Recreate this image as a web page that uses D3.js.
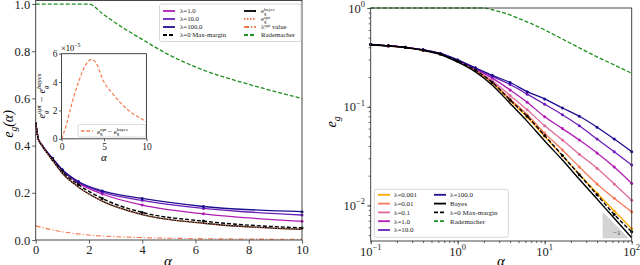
<!DOCTYPE html>
<html>
<head>
<meta charset="utf-8">
<script src="https://d3js.org/d3.v7.min.js"></script>
<style>
body { margin: 0; background: #fff; }
svg { display: block; font-family: "Liberation Serif", "DejaVu Serif", serif; }
</style>
</head>
<body>
<svg id="chart" width="640" height="265"></svg>
<script>
// sample points (alpha) shared by all the learning curves
const alpha = [0, 0.1, 0.16, 0.25, 0.4, 0.63, 1, 1.6, 2.5, 4, 6.3, 10, 16, 25, 40, 63, 100];

// generalisation error, one list per curve
const eLam0001 = [0.5, 0.426, 0.413, 0.398, 0.374, 0.341, 0.288, 0.232, 0.173, 0.115, 0.078, 0.05, 0.0318, 0.0207, 0.0133, 0.0088, 0.0058];
const eLam001  = [0.5, 0.426, 0.413, 0.398, 0.374, 0.342, 0.29, 0.235, 0.178, 0.12, 0.083, 0.054, 0.0365, 0.0245, 0.0165, 0.0118, 0.0086];
const eLam01   = [0.5, 0.426, 0.413, 0.399, 0.375, 0.343, 0.292, 0.238, 0.183, 0.13, 0.093, 0.064, 0.046, 0.033, 0.0238, 0.0165, 0.0113];
const eLam1    = [0.5, 0.427, 0.414, 0.4, 0.376, 0.345, 0.295, 0.242, 0.195, 0.148, 0.111, 0.079, 0.06, 0.046, 0.034, 0.0245, 0.0167];
const eLam10   = [0.5, 0.427, 0.414, 0.4, 0.377, 0.346, 0.297, 0.246, 0.203, 0.168, 0.134, 0.106, 0.083, 0.064, 0.047, 0.035, 0.0257];
const eLam100  = [0.5, 0.427, 0.414, 0.4, 0.377, 0.346, 0.298, 0.248, 0.208, 0.176, 0.142, 0.12, 0.097, 0.08, 0.062, 0.047, 0.035];
const eMaxMargin = [0.5, 0.427, 0.414, 0.399, 0.375, 0.342, 0.29, 0.235, 0.176, 0.117, 0.08, 0.051, 0.032, 0.0205, 0.0128, 0.0081, 0.0054];
const eBayes   = [0.5, 0.425, 0.412, 0.397, 0.372, 0.338, 0.283, 0.225, 0.165, 0.108, 0.071, 0.045, 0.0288, 0.0184, 0.0116, 0.0074, 0.0047];
const eOpt     = [0.5, 0.425, 0.412, 0.397, 0.372, 0.338, 0.283, 0.225, 0.165, 0.108, 0.071, 0.045];

// lambda_opt value (left panel only)
const lamOptAlpha = [0, 0.5, 1, 2, 3, 4, 6, 8, 10];
const lamOptValue = [0.06, 0.046, 0.035, 0.021, 0.014, 0.01, 0.006, 0.004, 0.003];

// Rademacher bound
const radAlpha = [0, 0.1, 2, 2.5, 3, 4, 5, 6.3, 8, 10, 16, 25, 40, 63, 100];
const radValue = [1, 1, 1, 0.96, 0.92, 0.85, 0.785, 0.72, 0.66, 0.6, 0.485, 0.395, 0.32, 0.265, 0.218];

// inset: e_opt - e_bayes
const insetAlpha = [0, 0.5, 1, 2, 3, 3.5, 4, 5, 6, 7, 8, 9, 10];
const insetDiff  = [0, 0.84e-5, 2.0e-5, 4.0e-5, 5.35e-5, 5.6e-5, 5.4e-5, 4.0e-5, 3.2e-5, 2.5e-5, 1.95e-5, 1.55e-5, 1.2e-5];

// slope -1 triangle (right panel)
const triAlpha = [47, 90];
const triE = [0.0047, 0.0084];

// ticks
const leftXTicks = [0, 2, 4, 6, 8, 10];
const leftYTicks = [0, 0.2, 0.4, 0.6, 0.8, 1.0];
const insetXTicks = [0, 5, 10];
const insetYTicks = [0, 2e-5, 4e-5, 6e-5];
const rightXTicks = [0.1, 1, 10, 100];
const rightYTicks = [0.01, 0.1, 1];

const col = {
  l0001: '#ffa500', l001: '#f57a5c', l01: '#dd6a9c', l1: '#b01cb4',
  l10: '#6c1db8', l100: '#1c0f8f', opt: '#f47a4e', green: '#1f8f1f'
};

const svg = d3.select('#chart');

// text with sub/superscripts; a sup right after a sub is stacked over it
function rich(text, parts, size, supUp) {
  const up = supUp || 0.45;
  let shift = 0, prev = null, prevMode = null;
  parts.forEach(p => {
    const mode = p[1] || null;
    const target = mode === 'sub' ? size * 0.28 : mode === 'sup' ? -size * up : 0;
    const ts = text.append('tspan')
      .attr('dy', target - shift)
      .attr('font-size', mode ? size * 0.68 : size)
      .text(p[0]);
    if (mode === 'sup' && prevMode === 'sub' && prev) {
      ts.attr('dx', -prev.node().getComputedTextLength());
    }
    shift = target;
    prev = ts;
    prevMode = mode;
  });
  return text;
}

function frame(g, x, y) {
  const [x0, x1] = x.range();
  const [y0, y1] = y.range();
  g.append('rect')
    .attr('x', x0).attr('y', y1)
    .attr('width', x1 - x0).attr('height', y0 - y1)
    .attr('fill', 'none').attr('stroke', '#333').attr('stroke-width', 0.9);
}

function styleAxis(g, size) {
  g.select('.domain').remove();
  g.selectAll('.tick line').attr('stroke', '#333').attr('stroke-width', 0.8);
  g.selectAll('.tick text').attr('font-size', size).attr('fill', '#222')
    .attr('font-family', '"Liberation Serif", serif');
}

function pairs(xs, ys) { return ys.map((v, i) => [xs[i], v]); }

function drawCurve(g, x, y, data, color, dash, width) {
  const line = d3.line().x(d => x(d[0])).y(d => y(d[1])).curve(d3.curveMonotoneX);
  g.append('path').datum(data)
    .attr('d', line).attr('fill', 'none')
    .attr('stroke', color).attr('stroke-width', width || 1.3)
    .attr('stroke-dasharray', dash || null);
}

function drawMarkers(g, x, y, data, color) {
  g.selectAll(null).data(data).join('circle')
    .attr('cx', d => x(d[0])).attr('cy', d => y(d[1]))
    .attr('r', 1.5).attr('fill', color);
}

function legend(g, box, rows, cols, size) {
  g.append('rect').attr('x', box[0]).attr('y', box[1])
    .attr('width', box[2]).attr('height', box[3]).attr('rx', 2)
    .attr('fill', 'white').attr('fill-opacity', 0.85)
    .attr('stroke', '#ccc').attr('stroke-width', 0.8);
  cols.forEach((items, ci) => {
    items.forEach((it, ri) => {
      const yy = rows[ri];
      g.append('line').attr('x1', ci === 0 ? box[4] : box[6]).attr('x2', (ci === 0 ? box[4] : box[6]) + 12)
        .attr('y1', yy).attr('y2', yy)
        .attr('stroke', it.color).attr('stroke-width', it.w || 1.8)
        .attr('stroke-dasharray', it.dash || null);
      const t = g.append('text').attr('x', ci === 0 ? box[5] : box[7]).attr('y', yy + size * 0.35)
        .attr('font-size', size).attr('fill', '#222');
      rich(t, it.parts, size, 0.3);
    });
  });
}

// ---------------- left panel ----------------
const xL = d3.scaleLinear().domain([0, 10]).range([35.7, 302]);
const yL = d3.scaleLinear().domain([0, 1.015]).range([240, 0.5]);
const gL = svg.append('g');

const leftSeries = [
  [eLam1, col.l1], [eLam10, col.l10], [eLam100, col.l100]
];
const inLeft = (xs, ys) => pairs(xs, ys).filter(d => d[0] <= 10);

drawCurve(gL, xL, yL, pairs(radAlpha, radValue).filter(d => d[0] <= 10), col.green, '4,2', 1.3);
drawCurve(gL, xL, yL, pairs(lamOptAlpha, lamOptValue), col.opt, '5,2,1.2,2', 1.1);
leftSeries.forEach(([e, c]) => {
  drawCurve(gL, xL, yL, inLeft(alpha, e), c);
  drawMarkers(gL, xL, yL, inLeft(alpha, e).filter(d => d[0] >= 0.6), c);
});
drawCurve(gL, xL, yL, inLeft(alpha, eBayes), '#000', null, 1.3);
drawCurve(gL, xL, yL, inLeft(alpha, eMaxMargin), '#000', '4,2', 1.4);
drawMarkers(gL, xL, yL, inLeft(alpha, eMaxMargin).filter(d => d[0] >= 0.6), '#000');
drawCurve(gL, xL, yL, pairs(alpha, eOpt), col.opt, '1,1.6', 1.3);

gL.append('g').attr('transform', 'translate(0,240)')
  .call(d3.axisBottom(xL).tickValues(leftXTicks).tickSize(3.5).tickPadding(2).tickFormat(d3.format('d')))
  .call(g => styleAxis(g, 12.5));
gL.append('g').attr('transform', 'translate(35.7,0)')
  .call(d3.axisLeft(yL).tickValues(leftYTicks).tickSize(3.5).tickPadding(2).tickFormat(d3.format('.1f')))
  .call(g => styleAxis(g, 12.5));
frame(gL, xL, yL);

gL.append('text').attr('x', 168).attr('y', 266).attr('text-anchor', 'middle')
  .attr('font-size', 15).attr('font-style', 'italic').text('α');
rich(gL.append('text').attr('transform', 'translate(13,124) rotate(-90)').attr('text-anchor', 'middle')
  .attr('font-size', 14).attr('font-style', 'italic'),
  [['e'], ['g', 'sub'], ['(α)']], 14);

legend(gL, [159.5, 4, 141.5, 37.5, 163, 180, 244, 261], [11, 19, 27, 35], [
  [
    { parts: [['λ=1.0']], color: col.l1 },
    { parts: [['λ=10.0']], color: col.l10 },
    { parts: [['λ=100.0']], color: col.l100 },
    { parts: [['λ=0 Max-margin']], color: '#000', dash: '4,2' }
  ],
  [
    { parts: [['e'], ['g', 'sub'], ['bayes', 'sup']], color: '#000' },
    { parts: [['e'], ['g', 'sub'], ['opt', 'sup']], color: col.opt, dash: '1.5,1.5' },
    { parts: [['λ'], ['opt', 'sup'], [' value']], color: col.opt, dash: '5,2,1.2,2' },
    { parts: [['Rademacher']], color: col.green, dash: '4,2' }
  ]
], 6.8);

// ---------------- inset ----------------
const xI = d3.scaleLinear().domain([0, 10]).range([61.5, 146.5]);
const yI = d3.scaleLinear().domain([0, 6e-5]).range([138.8, 53.7]);
const gI = svg.append('g');
gI.append('rect').attr('x', 61.5).attr('y', 53.7).attr('width', 85).attr('height', 85.1).attr('fill', 'white');
drawCurve(gI, xI, yI, pairs(insetAlpha, insetDiff), col.opt, '3.5,2', 1.2);
gI.append('g').attr('transform', 'translate(0,138.8)')
  .call(d3.axisBottom(xI).tickValues(insetXTicks).tickSize(2.5).tickPadding(1.5).tickFormat(d3.format('d')))
  .call(g => styleAxis(g, 9.5));
gI.append('g').attr('transform', 'translate(61.5,0)')
  .call(d3.axisLeft(yI).tickValues(insetYTicks).tickSize(2.5).tickPadding(1.5).tickFormat(d => d3.format('d')(d * 1e5)))
  .call(g => styleAxis(g, 9.5));
frame(gI, xI, yI);
rich(gI.append('text').attr('x', 61).attr('y', 51).attr('font-size', 8.5), [['×10'], ['−5', 'sup']], 8.5);
gI.append('text').attr('x', 104).attr('y', 161).attr('text-anchor', 'middle')
  .attr('font-size', 11).attr('font-style', 'italic').text('α');
rich(gI.append('text').attr('transform', 'translate(45,96) rotate(-90)').attr('text-anchor', 'middle')
  .attr('font-size', 10).attr('font-style', 'italic'),
  [['e'], ['g', 'sub'], ['opt', 'sup'], [' − e'], ['g', 'sub'], ['bayes', 'sup']], 10);
gI.append('rect').attr('x', 78).attr('y', 124.5).attr('width', 67.5).attr('height', 12.5).attr('rx', 1.5)
  .attr('fill', 'white').attr('stroke', '#ccc').attr('stroke-width', 0.7);
gI.append('line').attr('x1', 81).attr('x2', 93).attr('y1', 131).attr('y2', 131)
  .attr('stroke', col.opt).attr('stroke-width', 1.6).attr('stroke-dasharray', '3.5,2');
rich(gI.append('text').attr('x', 97).attr('y', 133.5).attr('font-size', 7),
  [['e'], ['g', 'sub'], ['opt', 'sup'], [' − e'], ['g', 'sub'], ['bayes', 'sup']], 7, 0.3);

// ---------------- right panel ----------------
const xR = d3.scaleLog().domain([0.1, 100]).range([370.7, 631.7]);
const yR = d3.scaleLog().domain([0.00436, 1]).range([241, 8]);
const gR = svg.append('g');
const pos = (xs, ys) => pairs(xs, ys).filter(d => d[0] > 0);

// slope triangle
gR.append('path')
  .attr('d', d3.line()([
    [xR(triAlpha[0]), yR(triE[1])], [xR(triAlpha[0]), yR(triE[0])], [xR(triAlpha[1]), yR(triE[0])]
  ]) + 'Z')
  .attr('fill', '#d4d4d4').attr('stroke', '#bbb').attr('stroke-width', 0.6);
gR.append('text').attr('x', xR(triAlpha[0]) + 10).attr('y', yR(triE[0]) - 2.5)
  .attr('font-size', 7).attr('fill', '#333').text('−1');

drawCurve(gR, xR, yR, pos(radAlpha, radValue), col.green, '4,2', 1.3);
const rightSeries = [
  [eLam0001, col.l0001], [eLam001, col.l001], [eLam01, col.l01],
  [eLam1, col.l1], [eLam10, col.l10], [eLam100, col.l100]
];
rightSeries.forEach(([e, c]) => {
  drawCurve(gR, xR, yR, pos(alpha, e), c);
  drawMarkers(gR, xR, yR, pos(alpha, e), c);
});
drawCurve(gR, xR, yR, pos(alpha, eMaxMargin), '#000', '4,2', 1.4);
drawMarkers(gR, xR, yR, pos(alpha, eMaxMargin), '#000');
drawCurve(gR, xR, yR, pos(alpha, eBayes), '#000', null, 1.4);

// minor + major ticks
gR.append('g').attr('transform', 'translate(0,241)')
  .call(d3.axisBottom(xR).tickValues(xR.ticks()).tickSize(2).tickFormat(''))
  .call(g => styleAxis(g, 1));
gR.append('g').attr('transform', 'translate(370.7,0)')
  .call(d3.axisLeft(yR).tickValues(yR.ticks()).tickSize(2).tickFormat(''))
  .call(g => styleAxis(g, 1));
gR.append('g').attr('transform', 'translate(0,241)')
  .call(d3.axisBottom(xR).tickValues(rightXTicks).tickSize(3.5).tickFormat(''))
  .call(g => styleAxis(g, 1));
gR.append('g').attr('transform', 'translate(370.7,0)')
  .call(d3.axisLeft(yR).tickValues(rightYTicks).tickSize(3.5).tickFormat(''))
  .call(g => styleAxis(g, 1));
frame(gR, xR, yR);

rightXTicks.forEach(v => {
  rich(gR.append('text').attr('x', xR(v)).attr('y', 256).attr('text-anchor', 'middle').attr('fill', '#222'),
    [['10'], [String(Math.round(Math.log10(v))).replace('-', '−'), 'sup']], 12.5);
});
rightYTicks.forEach(v => {
  rich(gR.append('text').attr('x', 365).attr('y', yR(v) + 4.5).attr('text-anchor', 'end').attr('fill', '#222'),
    [['10'], [String(Math.round(Math.log10(v))).replace('-', '−'), 'sup']], 12.5);
});
gR.append('text').attr('x', 501).attr('y', 266).attr('text-anchor', 'middle')
  .attr('font-size', 15).attr('font-style', 'italic').text('α');
rich(gR.append('text').attr('transform', 'translate(336,122) rotate(-90)').attr('text-anchor', 'middle')
  .attr('font-size', 14).attr('font-style', 'italic'),
  [['e'], ['g', 'sub']], 14);

legend(gR, [374.3, 189.3, 134, 48, 378, 394, 434, 450], [194.8, 203.6, 212.4, 221.2, 230], [
  [
    { parts: [['λ=0.001']], color: col.l0001 },
    { parts: [['λ=0.01']], color: col.l001 },
    { parts: [['λ=0.1']], color: col.l01 },
    { parts: [['λ=1.0']], color: col.l1 },
    { parts: [['λ=10.0']], color: col.l10 }
  ],
  [
    { parts: [['λ=100.0']], color: col.l100 },
    { parts: [['Bayes']], color: '#000' },
    { parts: [['λ=0 Max-margin']], color: '#000', dash: '4,2' },
    { parts: [['Rademacher']], color: col.green, dash: '4,2' }
  ]
], 7);
</script>
</body>
</html>
